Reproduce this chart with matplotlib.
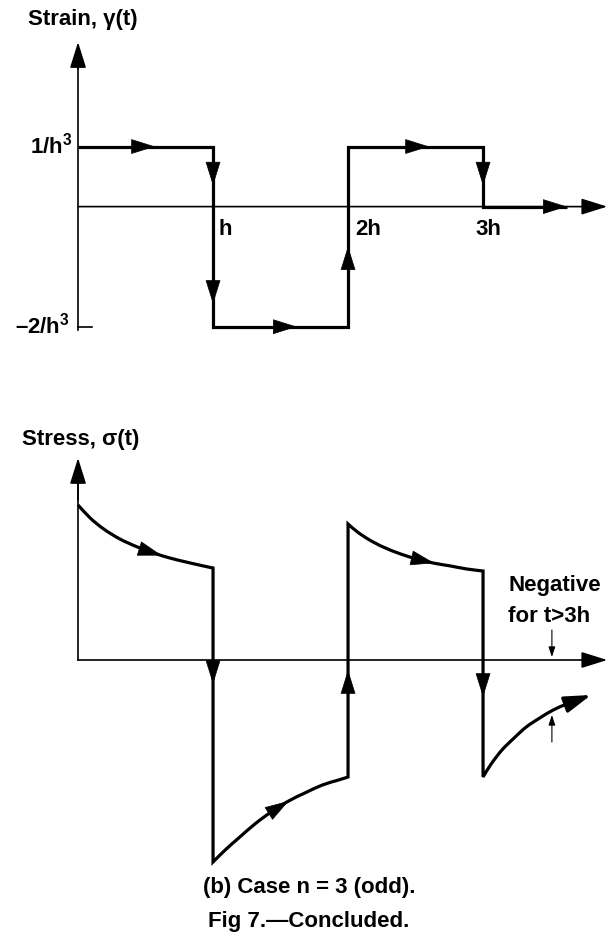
import numpy as np
import matplotlib
matplotlib.use("Agg")
import matplotlib.pyplot as plt
from matplotlib.path import Path
from matplotlib.patches import PathPatch

plt.rcParams["font.family"] = ["Liberation Sans", "DejaVu Sans"]
plt.rcParams["font.weight"] = "bold"
plt.rcParams["mathtext.fontset"] = "custom"
plt.rcParams["mathtext.rm"] = "Liberation Sans:bold"
plt.rcParams["mathtext.it"] = "Liberation Sans:bold"
plt.rcParams["mathtext.bf"] = "Liberation Sans:bold"

# ---- strain history (time in units of h, strain in units of 1/h^3) ----
step_times = [0, 1, 2, 3]
strain_levels = [1, -2, 1, 0]
strain_tail_end = 3.62
tick_labels = ["h", "2h", "3h"]

# ---- stress response (time in units of h, stress in arbitrary units) ----
stress1_t = [0.00, 0.09, 0.19, 0.31, 0.44, 0.56, 0.68, 0.80, 0.93, 1.00]
stress1_s = [1.55, 1.42, 1.31, 1.21, 1.13, 1.07, 1.02, 0.98, 0.94, 0.92]
stress2_t = [1.00, 1.09, 1.19, 1.31, 1.43, 1.56, 1.68, 1.81, 1.93, 2.00]
stress2_s = [-2.02, -1.90, -1.78, -1.64, -1.52, -1.41, -1.33, -1.25, -1.20, -1.17]
stress3_t = [2.00, 2.07, 2.16, 2.26, 2.39, 2.51, 2.63, 2.76, 2.88, 3.00]
stress3_s = [1.36, 1.28, 1.20, 1.13, 1.06, 1.01, 0.97, 0.94, 0.91, 0.89]
stress4_t = [3.00, 3.06, 3.14, 3.23, 3.32, 3.42, 3.52, 3.62, 3.72, 3.80]
stress4_s = [-1.17, -1.04, -0.90, -0.78, -0.67, -0.58, -0.50, -0.44, -0.39, -0.35]

FS = 16
LW = 2.3
AXLW = 1.2
HEAD = "-|>,head_length=1.6,head_width=0.5"

fig = plt.figure(figsize=(6.14, 9.5), dpi=100)
ax1 = fig.add_axes([0, 0.6, 1, 0.4])
ax2 = fig.add_axes([0, 0.0, 1, 0.6])
for ax in (ax1, ax2):
    ax.set_xlim(-0.578, 3.970)
    ax.axis("off")
ax1.set_ylim(-2.887, 3.440)
ax2.set_ylim(-2.9, 2.8)


def head(ax, tail, tip, style=HEAD):
    ax.annotate("", xy=tip, xytext=tail,
                arrowprops=dict(arrowstyle=style, color="black", lw=0.5,
                                shrinkA=0, shrinkB=0, mutation_scale=10))


def axis_arrow(ax, start, tip, lw=AXLW):
    ax.annotate("", xy=tip, xytext=start,
                arrowprops=dict(arrowstyle=HEAD, color="black", lw=lw,
                                shrinkA=0, shrinkB=0, mutation_scale=10))


def curve_head(ax, t, s, t_tip, dt=0.05):
    tip = (t_tip, np.interp(t_tip, t, s))
    tail = (t_tip - dt, np.interp(t_tip - dt, t, s))
    head(ax, tail, tip)


def smooth_segments(t, s):
    """Cubic Bezier pieces through the given points (Catmull-Rom handles)."""
    p = np.column_stack([t, s]).astype(float)
    ext = np.vstack([p[0], p, p[-1]])
    verts, codes = [], []
    for i in range(len(p) - 1):
        p0, p1, p2, p3 = ext[i], ext[i + 1], ext[i + 2], ext[i + 3]
        c1 = p1 + (p2 - p0) / 6.0
        c2 = p2 - (p3 - p1) / 6.0
        verts += [tuple(c1), tuple(c2), tuple(p2)]
        codes += [Path.CURVE4] * 3
    return verts, codes


# ---------------- strain diagram ----------------
axis_arrow(ax1, (0, 0), (3.92, 0))
ax1.plot([0, 0], [-2.05, 2.5], color="black", lw=AXLW)
axis_arrow(ax1, (0, 2.3), (0, 2.74))
ax1.plot([0, 0.10], [-2, -2], color="black", lw=AXLW)

st_x, st_y = [], []
for i, lev in enumerate(strain_levels):
    t0 = step_times[i]
    t1 = step_times[i + 1] if i + 1 < len(step_times) else strain_tail_end
    st_x += [t0, t1]
    st_y += [lev, lev]
ax1.plot(st_x, st_y, color="black", lw=LW, solid_joinstyle="miter",
         solid_capstyle="butt")

# direction marks along the strain path
head(ax1, (0.45, 1), (0.57, 1))
head(ax1, (1, 0.65), (1, 0.35))
head(ax1, (1, -1.3), (1, -1.62))
head(ax1, (1.5, -2), (1.62, -2))
head(ax1, (2, -0.98), (2, -0.66))
head(ax1, (2.48, 1), (2.60, 1))
head(ax1, (3, 0.65), (3, 0.35))
head(ax1, (3.5, 0), (3.62, 0))

ax1.text(-0.37, 3.11, "Strain, γ(t)", fontsize=FS, ha="left", va="center",
         fontweight="bold")
ax1.text(-0.044, 1.02, r"1/h$^{3}$", fontsize=FS, ha="right", va="center",
         fontweight="bold")
ax1.text(-0.06, -1.98, r"–2/h$^{3}$", fontsize=FS, ha="right", va="center",
         fontweight="bold")
ax1.text(1.04, -0.2, tick_labels[0], fontsize=FS, ha="left", va="top",
         fontweight="bold")
ax1.text(2.05, -0.2, tick_labels[1], fontsize=FS, ha="left", va="top",
         fontweight="bold")
ax1.text(3.04, -0.2, tick_labels[2], fontsize=FS, ha="center", va="top",
         fontweight="bold")

# ---------------- stress diagram ----------------
axis_arrow(ax2, (0, 0), (3.92, 0))
ax2.plot([0, 0], [0, 1.8], color="black", lw=AXLW)
axis_arrow(ax2, (0, 1.6), (0, 2.02))

pieces = [(stress1_t, stress1_s), (stress2_t, stress2_s),
          (stress3_t, stress3_s), (stress4_t[:-1], stress4_s[:-1])]
verts = [(pieces[0][0][0], pieces[0][1][0])]
codes = [Path.MOVETO]
for k, (t, s) in enumerate(pieces):
    if k > 0:
        verts.append((t[0], s[0]))
        codes.append(Path.LINETO)
    v, c = smooth_segments(t, s)
    verts += v
    codes += c
ax2.add_patch(PathPatch(Path(verts, codes), facecolor="none",
                        edgecolor="black", lw=LW, joinstyle="miter",
                        capstyle="butt"))
ax2.annotate("", xy=(stress4_t[-1], stress4_s[-1]),
             xytext=(stress4_t[-2], stress4_s[-2]),
             arrowprops=dict(arrowstyle=HEAD, color="black", lw=LW,
                             shrinkA=0, shrinkB=0, mutation_scale=10))

curve_head(ax2, stress1_t, stress1_s, 0.62)
curve_head(ax2, stress2_t, stress2_s, 1.56)
curve_head(ax2, stress3_t, stress3_s, 2.64)
head(ax2, (1, 0.05), (1, -0.24))
head(ax2, (2, -0.40), (2, -0.10))
head(ax2, (3, -0.08), (3, -0.37))

# note about the sign after 3h
thin = "-|>,head_length=0.6,head_width=0.2"
ax2.annotate("", xy=(3.51, 0.03), xytext=(3.51, 0.30),
             arrowprops=dict(arrowstyle=thin, color="black", lw=0.8,
                             shrinkA=0, shrinkB=0, mutation_scale=10))
ax2.annotate("", xy=(3.51, -0.55), xytext=(3.51, -0.82),
             arrowprops=dict(arrowstyle=thin, color="black", lw=0.8,
                             shrinkA=0, shrinkB=0, mutation_scale=10))
ax2.text(3.185, 0.74, "Negative", fontsize=FS, ha="left", va="center",
         fontweight="bold")
ax2.text(3.185, 0.44, "for t>3h", fontsize=FS, ha="left", va="center",
         fontweight="bold")

ax2.text(-0.415, 2.2, "Stress, σ(t)", fontsize=FS, ha="left", va="center",
         fontweight="bold")

fig.text(309 / 614, 1 - 887 / 950, "(b) Case n = 3 (odd).", fontsize=FS,
         ha="center", va="center", fontweight="bold")
fig.text(309 / 614, 1 - 922 / 950, "Fig 7.—Concluded.", fontsize=FS,
         ha="center", va="center", fontweight="bold")

fig.savefig("out.png", dpi=100, facecolor="white")
